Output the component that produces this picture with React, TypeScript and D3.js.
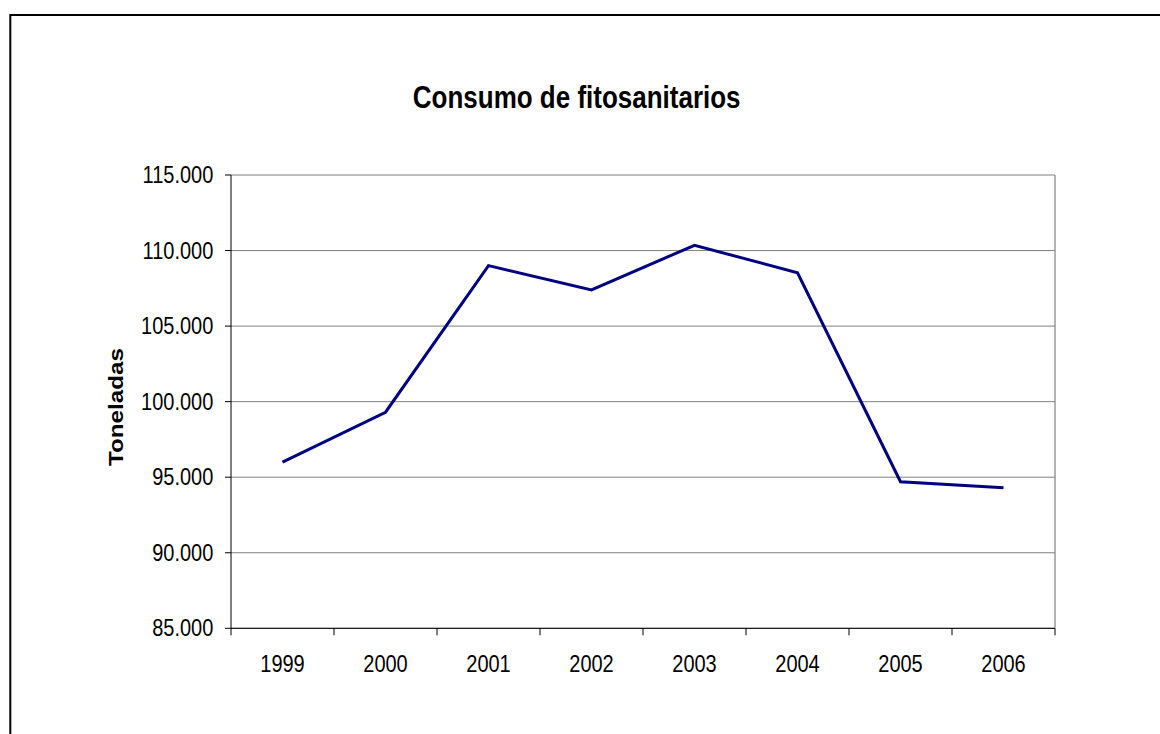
import React from "react";
import * as d3 from "d3";

const years = ["1999", "2000", "2001", "2002", "2003", "2004", "2005", "2006"];
const toneladas = [96000, 99300, 109000, 107400, 110350, 108530, 94700, 94300];
const yTicks = [85000, 90000, 95000, 100000, 105000, 110000, 115000];
const title = "Consumo de fitosanitarios";
const yTitle = "Toneladas";

const W = 1160;
const H = 734;
const SY = 1.18;
const FONT = "'Liberation Sans', Arial, Helvetica, sans-serif";

const locale = d3.formatLocale({ decimal: ",", thousands: ".", grouping: [3], currency: ["", "€"] });
const fmt = locale.format(",.0f");

export default function App() {
  const left = 231, right = 1055, top = 175, bottom = 628.3;
  const x = d3.scaleBand<string>().domain(years).range([left, right]);
  const y = d3.scaleLinear().domain([85000, 115000]).range([bottom, top]);
  const line = d3
    .line<number>()
    .x((_, i) => (x(years[i]) as number) + x.bandwidth() / 2)
    .y((d) => y(d));

  const bounds = years.map((yr) => x(yr) as number).concat([right]);

  return (
    <svg
      width={W}
      height={H}
      style={{ position: "absolute", left: 0, top: 0, background: "#fff" }}
      fontFamily={FONT}
    >
      <rect x={0} y={0} width={W} height={H} fill="#fff" />
      <rect x={10.3} y={15} width={1300} height={900} fill="none" stroke="#000" strokeWidth={2} />

      {/* title */}
      <text
        transform={`translate(${576.7},${108.3}) scale(1,${SY})`}
        textAnchor="middle"
        fontWeight="bold"
        fontSize={26}
        fill="#000"
      >
        {title}
      </text>

      {/* y axis title */}
      <text
        transform={`translate(${123},${407}) scale(1,${SY}) rotate(-90)`}
        textAnchor="middle"
        fontWeight="bold"
        fontSize={20.5}
        fill="#000"
      >
        {yTitle}
      </text>

      {/* gridlines */}
      {yTicks.map((t) => (
        <line key={"g" + t} x1={left} x2={right} y1={y(t)} y2={y(t)} stroke="#808080" strokeWidth={1} />
      ))}
      {/* right plot border */}
      <line x1={right} x2={right} y1={top} y2={bottom} stroke="#808080" strokeWidth={1.2} />

      {/* y axis */}
      <line x1={left} x2={left} y1={top} y2={bottom} stroke="#000" strokeWidth={1} />
      {yTicks.map((t) => (
        <g key={"yt" + t}>
          <line x1={left - 6} x2={left} y1={y(t)} y2={y(t)} stroke="#000" strokeWidth={1} />
          <text
            transform={`translate(${213.3},${y(t) + 8}) scale(1,${SY})`}
            textAnchor="end"
            fontSize={20}
            fill="#000"
          >
            {fmt(t)}
          </text>
        </g>
      ))}

      {/* x axis */}
      <line x1={left} x2={right} y1={bottom} y2={bottom} stroke="#000" strokeWidth={1} />
      {bounds.map((b, i) => (
        <line key={"xt" + i} x1={b} x2={b} y1={bottom} y2={bottom + 7} stroke="#000" strokeWidth={1} />
      ))}
      {years.map((yr) => (
        <text
          key={"xl" + yr}
          transform={`translate(${(x(yr) as number) + x.bandwidth() / 2},${671.7}) scale(1,${SY})`}
          textAnchor="middle"
          fontSize={20}
          fill="#000"
        >
          {yr}
        </text>
      ))}

      {/* series */}
      <path d={line(toneladas) || ""} fill="none" stroke="#000080" strokeWidth={3} strokeLinejoin="miter" />
    </svg>
  );
}
